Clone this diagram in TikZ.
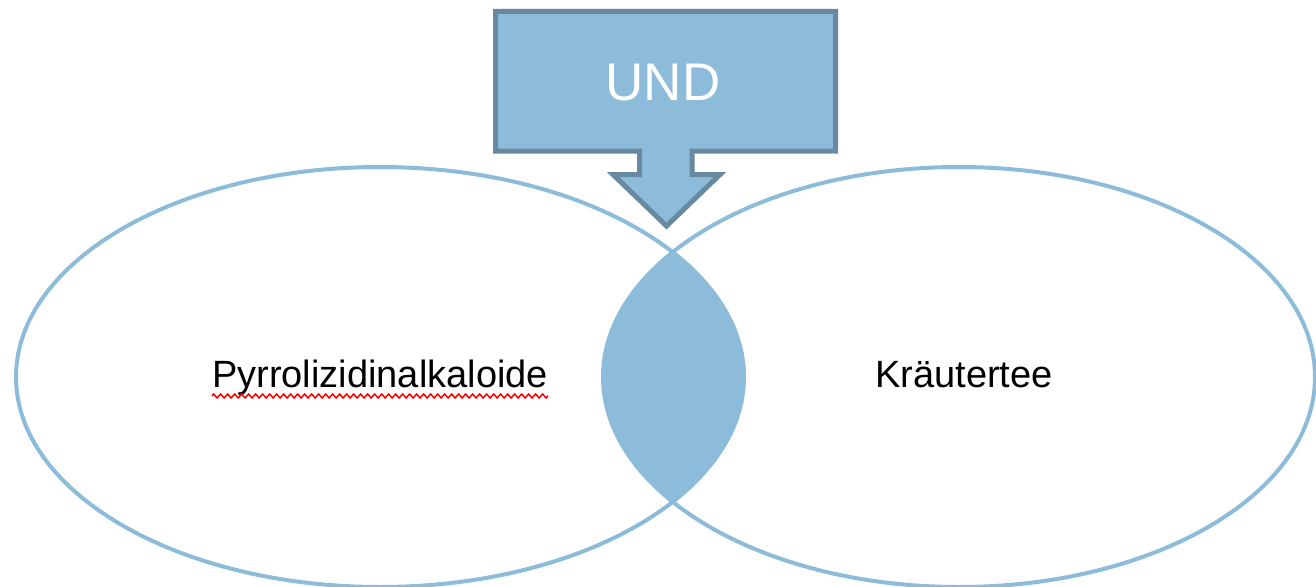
\documentclass[tikz,border=0pt]{standalone}
\usepackage{fontspec}
\setmainfont{Liberation Sans}
\usetikzlibrary{decorations.pathmorphing}
\definecolor{mfill}{HTML}{8CBCDA}
\definecolor{medge}{HTML}{678AA0}
\definecolor{mred}{HTML}{FF0000}
\tikzstyle{setline} = [draw=mfill, line width=4pt]
\tikzstyle{callout} = [draw=medge, fill=mfill, line width=5pt, line join=miter]
\tikzstyle{settext} = [anchor=base, inner sep=0pt, text=black, font=\fontsize{38}{44}\selectfont]
\tikzstyle{undtext} = [anchor=base, inner sep=0pt, text=white, font=\fontsize{53}{60}\selectfont]
\tikzstyle{spell} = [draw=mred, line width=1.5pt, decorate, decoration={zigzag, amplitude=2pt, segment length=7pt}]

\begin{document}
\begin{tikzpicture}[x=1pt, y=-1pt]
\useasboundingbox (0,0) rectangle (1316,586);
\coordinate (cl) at (380,377);
\coordinate (cr) at (959,377);
\begin{scope}
\clip (cl) ellipse [x radius=364pt, y radius=210pt];
\fill[mfill] (cr) ellipse [x radius=356pt, y radius=210pt];
\end{scope}
\draw[setline] (cl) ellipse [x radius=364pt, y radius=210pt];
\draw[setline] (cr) ellipse [x radius=356pt, y radius=210pt];
\draw[callout] (495.5,11.5) -- (835.5,11.5) -- (835.5,151) -- (692,151) -- (692,174.5) -- (720,174.5) -- (666.5,226) -- (613,174.5) -- (639.5,174.5) -- (639.5,151) -- (495.5,151) -- cycle;
\node (und) [undtext] at (663,100) {UND};
\node (pa) [settext] at (380,387) {Pyrrolizidinalkaloide};
\node (kt) [settext] at (964,387) {Kräutertee};
\draw[spell] ([yshift=-9pt]pa.base west) -- ([yshift=-9pt]pa.base east);
\end{tikzpicture}
\end{document}
